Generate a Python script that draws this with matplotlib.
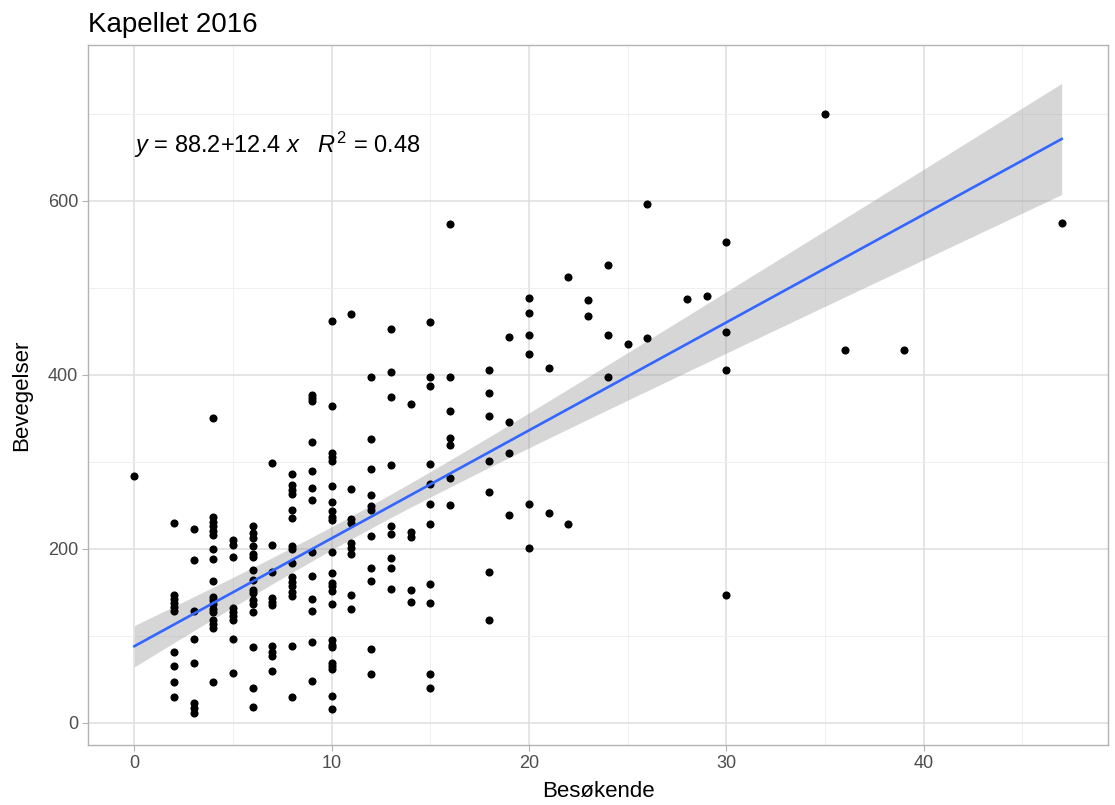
import numpy as np
import matplotlib.pyplot as plt

plt.rcParams['font.family'] = ['Liberation Sans', 'DejaVu Sans']
plt.rcParams['mathtext.fontset'] = 'custom'
plt.rcParams['mathtext.it'] = 'Liberation Sans:italic'
plt.rcParams['mathtext.rm'] = 'Liberation Sans'

# visitors (x) and movements (y) per day, Kapellet 2016
pts = {
    0: [284],
    2: [230, 147, 143, 138, 133, 129, 82, 66, 47, 30],
    3: [223, 187, 129, 97, 69, 23, 17, 11],
    4: [350, 237, 231, 226, 221, 216, 200, 188, 163, 145, 141, 137, 131, 127,
        118, 114, 109, 47],
    5: [210, 205, 191, 132, 128, 123, 118, 97, 58],
    6: [226, 218, 212, 203, 194, 191, 176, 164, 153, 149, 141, 137, 128, 87,
        40, 18],
    7: [299, 204, 174, 144, 139, 136, 88, 82, 77, 60],
    8: [286, 274, 268, 263, 245, 236, 203, 200, 184, 168, 162, 157, 151, 146,
        89, 30],
    9: [377, 373, 370, 323, 290, 270, 256, 196, 169, 143, 129, 93, 48],
    10: [462, 364, 310, 306, 301, 272, 254, 243, 237, 233, 196, 172, 161, 157,
         152, 137, 95, 90, 87, 69, 66, 62, 31, 16],
    11: [470, 269, 234, 230, 207, 201, 194, 147, 131],
    12: [397, 326, 292, 262, 249, 245, 215, 178, 163, 85, 56],
    13: [453, 403, 375, 296, 226, 217, 189, 178, 154],
    14: [366, 219, 214, 153, 139],
    15: [461, 397, 387, 298, 275, 252, 229, 160, 138, 56, 40],
    16: [573, 397, 359, 328, 319, 281, 251],
    18: [406, 379, 353, 301, 265, 174, 118],
    19: [443, 346, 310, 239],
    20: [488, 471, 446, 424, 252, 201],
    21: [408, 241],
    22: [513, 229],
    23: [486, 468],
    24: [526, 446, 397],
    25: [435],
    26: [596, 442],
    28: [487],
    29: [491],
    30: [553, 449, 406, 147],
    35: [700],
    36: [428],
    39: [429],
    47: [575],
}
besokende = np.array([k for k, v in pts.items() for _ in v], dtype=float)
bevegelser = np.array([y for v in pts.values() for y in v], dtype=float)

intercept = 88.2
slope = 12.4
r2 = 0.48

# =========================
# FIT BAND
# =========================
n = len(besokende)
xbar = besokende.mean()
sxx = ((besokende - xbar) ** 2).sum()
resid = bevegelser - (intercept + slope * besokende)
s = np.sqrt((resid ** 2).sum() / (n - 2))
xs = np.linspace(besokende.min(), besokende.max(), 80)
fit = intercept + slope * xs
se = s * np.sqrt(1 / n + (xs - xbar) ** 2 / sxx)
t = 1.97

# =========================
# PLOT
# =========================
fig = plt.figure(figsize=(11.15, 8.05), dpi=100)
ax = fig.add_axes([88 / 1115, 1 - 745 / 805, 1020 / 1115, 700 / 805])

ax.fill_between(xs, fit - t * se, fit + t * se, color='#999999', alpha=0.4,
                linewidth=0, zorder=2)
ax.scatter(besokende, bevegelser, s=34, color='black', linewidths=0, zorder=3)
ax.plot(xs, fit, color='#3366FF', linewidth=1.9, zorder=4)

ax.text(0, 664, r'$y$ = 88.2+12.4 $x$   $R^2$ = 0.48', fontsize=17,
        ha='left', va='center', zorder=5)

ax.set_xlim(-2.35, 49.35)
ax.set_ylim(-25.3, 779)
ax.set_xticks([0, 10, 20, 30, 40])
ax.set_yticks([0, 200, 400, 600])
ax.set_xticks([5, 15, 25, 35, 45], minor=True)
ax.set_yticks([100, 300, 500, 700], minor=True)
ax.grid(which='major', color='#DEDEDE', linewidth=1.1, zorder=0)
ax.grid(which='minor', color='#EDEDED', linewidth=0.6, zorder=0)
ax.set_axisbelow(True)
for sp in ax.spines.values():
    sp.set_color('#B3B3B3')
    sp.set_linewidth(1.0)
ax.tick_params(which='major', color='#B3B3B3', length=4, labelsize=13,
               labelcolor='#4D4D4D', pad=3)
ax.tick_params(which='minor', length=0)

ax.set_xlabel('Besøkende', fontsize=16, labelpad=7)
ax.set_ylabel('Bevegelser', fontsize=16, labelpad=11)
fig.text(88 / 1115, 1 - 25 / 805, 'Kapellet 2016', fontsize=20,
         ha='left', va='center')

fig.savefig('out.png', dpi=100)
